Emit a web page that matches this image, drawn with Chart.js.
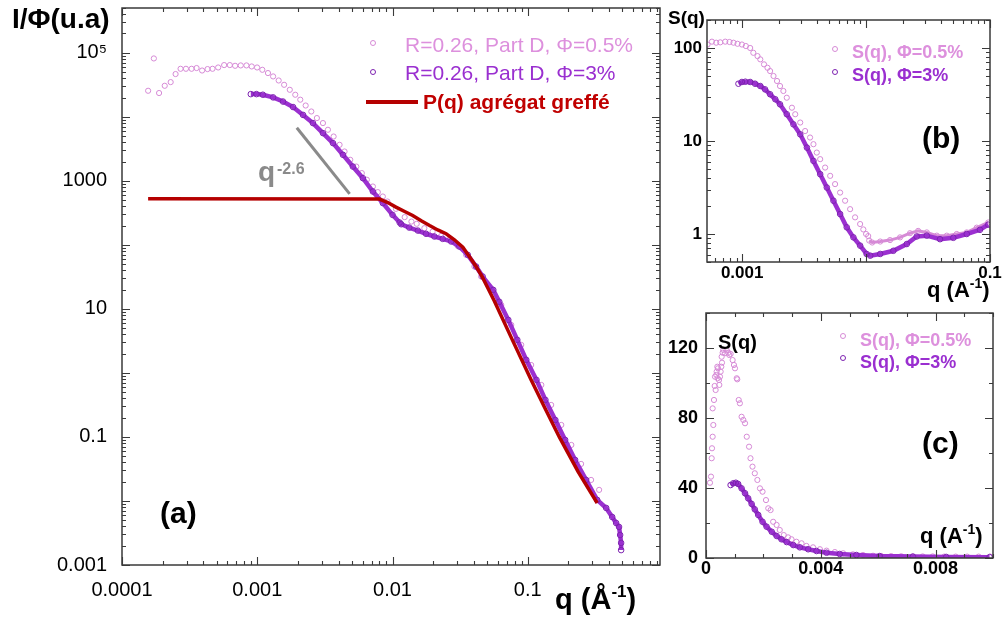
<!DOCTYPE html>
<html>
<head>
<meta charset="utf-8">
<script src="https://cdn.jsdelivr.net/npm/chart.js@4.4.1/dist/chart.umd.min.js"></script>
<style>
  body { margin: 0; background: #fff; width: 1005px; height: 623px; overflow: hidden; position: relative;
         font-family: 'Liberation Sans', Arial, sans-serif; }
  canvas { position: absolute; }
  .t { position: absolute; white-space: nowrap; line-height: 1; }
  .b { font-weight: bold; }
  .mk { position: absolute; width: 4px; height: 4px; border: 1px solid; border-radius: 50%; }
</style>
</head>
<body>
<canvas id="chartA" width="672" height="623" style="left:0;top:0"></canvas>
<canvas id="chartB" width="353" height="306" style="left:652px;top:0"></canvas>
<canvas id="chartC" width="353" height="317" style="left:652px;top:306px"></canvas>

<!-- panel (a) texts -->
<div class="t b" style="left:12px;top:5px;font-size:28px;">I/Φ(u.a)</div>
<div class="t b" style="left:555px;top:585px;font-size:29px;">q (Å<span style="font-size:17px;position:relative;top:-12px">-1</span>)</div>
<div class="mk" style="left:370px;top:40px;border-color:#d68ad6"></div>
<div class="t" style="left:405px;top:34px;font-size:21px;color:#dd90dd">R=0.26, Part D, Φ=0.5%</div>
<div class="mk" style="left:370px;top:69px;border-color:#7d22b0"></div>
<div class="t" style="left:405px;top:62px;font-size:21px;color:#9a2fd0">R=0.26, Part D, Φ=3%</div>
<div style="position:absolute;left:366px;top:100px;width:52px;height:4px;background:#b50000"></div>
<div class="t b" style="left:423px;top:91px;font-size:21px;color:#c00000">P(q) agrégat greffé</div>
<div class="t b" style="left:258px;top:158px;font-size:28px;color:#8a8a8a">q</div>
<div class="t b" style="left:277px;top:161px;font-size:16px;color:#8a8a8a">-2.6</div>
<div class="t b" style="left:160px;top:498px;font-size:30px;">(a)</div>

<!-- panel (b) texts -->
<div class="t b" style="left:668px;top:8px;font-size:19px;">S(q)</div>
<div class="mk" style="left:832px;top:46px;border-color:#d68ad6"></div>
<div class="t b" style="left:852px;top:43px;font-size:18px;color:#dd90dd">S(q), Φ=0.5%</div>
<div class="mk" style="left:832px;top:69px;border-color:#7d22b0"></div>
<div class="t b" style="left:852px;top:66px;font-size:18px;color:#9a2fd0">S(q), Φ=3%</div>
<div class="t b" style="left:922px;top:123px;font-size:30px;">(b)</div>
<div class="t b" style="left:927px;top:279px;font-size:22px;">q (A<span style="font-size:14px;position:relative;top:-9px">-1</span>)</div>

<!-- panel (c) texts -->
<div class="t b" style="left:718px;top:332px;font-size:20px;">S(q)</div>
<div class="mk" style="left:840px;top:333px;border-color:#d68ad6"></div>
<div class="t b" style="left:860px;top:331px;font-size:18px;color:#dd90dd">S(q), Φ=0.5%</div>
<div class="mk" style="left:840px;top:355px;border-color:#7d22b0"></div>
<div class="t b" style="left:860px;top:353px;font-size:18px;color:#9a2fd0">S(q), Φ=3%</div>
<div class="t b" style="left:922px;top:428px;font-size:30px;">(c)</div>
<div class="t b" style="left:920px;top:525px;font-size:22px;">q (A<span style="font-size:14px;position:relative;top:-9px">-1</span>)</div>

<script>
// SANS scattering, R=0.26 Part D — three panels.

// ---- panel (a): I/Φ vs q (log-log)
const aPhi05Q = [1.56e-4, 1.72e-4, 1.88e-4, 2.07e-4, 2.29e-4, 2.49e-4, 2.71e-4, 2.97e-4, 3.27e-4, 3.56e-4,
  3.91e-4, 4.29e-4, 4.67e-4, 5.14e-4, 5.69e-4, 6.27e-4, 6.86e-4, 7.55e-4, 8.32e-4, 9.10e-4,
  9.97e-4, 1.09e-3, 1.20e-3, 1.31e-3, 1.44e-3, 1.58e-3, 1.74e-3, 1.91e-3, 2.08e-3, 2.28e-3,
  2.51e-3, 2.76e-3, 3.06e-3, 3.33e-3, 3.67e-3, 4.06e-3, 4.42e-3, 4.87e-3, 5.40e-3, 5.93e-3,
  6.46e-3, 7.16e-3, 7.79e-3, 8.48e-3, 9.18e-3, 1.06e-2, 1.23e-2, 1.38e-2, 1.51e-2, 1.72e-2,
  1.98e-2, 2.29e-2, 2.63e-2, 3.03e-2, 3.50e-2, 4.03e-2, 4.52e-2, 5.38e-2, 6.37e-2, 7.55e-2,
  8.95e-2, 0.106, 0.126, 0.149, 0.177, 0.210, 0.248, 0.294, 0.337];
const aPhi05I = [2.55e4, 8.15e4, 2.35e4, 3.05e4, 3.48e4, 4.65e4, 5.62e4, 5.62e4, 5.62e4, 5.77e4,
  5.28e4, 5.56e4, 5.62e4, 5.89e4, 6.42e4, 6.42e4, 6.26e4, 6.34e4, 6.34e4, 6.11e4,
  5.89e4, 5.42e4, 4.82e4, 4.27e4, 3.69e4, 3.16e4, 2.64e4, 2.21e4, 1.85e4, 1.50e4,
  1.21e4, 9.55e3, 7.98e3, 6.27e3, 4.92e3, 3.65e3, 2.87e3, 2.13e3, 1.67e3, 1.32e3,
  1040, 815, 666, 569, 475, 365, 271, 231, 213, 182,
  161, 138, 120, 96.4, 69.8, 45.8, 32, 19.8, 11.5, 5.62,
  2.74, 1.33, 0.649, 0.316, 0.154, 0.075, 0.0379, 0.0213, 0.0149];

const aPhi3Q = [8.96e-4, 9.87e-4, 1.10e-3, 1.31e-3, 1.55e-3, 1.84e-3, 2.18e-3, 2.58e-3, 3.06e-3, 3.63e-3,
  4.30e-3, 5.09e-3, 6.04e-3, 7.16e-3, 8.48e-3, 1.00e-2, 1.13e-2, 1.16e-2, 1.33e-2, 1.54e-2,
  1.77e-2, 2.04e-2, 2.35e-2, 2.71e-2, 3.12e-2, 3.60e-2, 4.15e-2, 4.64e-2, 5.56e-2, 6.16e-2,
  7.18e-2, 8.37e-2, 9.75e-2, 0.116, 0.135, 0.160, 0.189, 0.224, 0.270, 0.326,
  0.380, 0.421, 0.450, 0.473, 0.482, 0.490, 0.490];
const aPhi3I = [2.26e4, 2.26e4, 2.21e4, 2.01e4, 1.73e4, 1.42e4, 1.07e4, 7.98e3, 5.56e3, 3.88e3,
  2.55e3, 1.67e3, 1.10e3, 681, 449, 294, 223, 210, 186, 167,
  149, 135, 124, 113, 94, 69.8, 45.8, 32, 19.8, 12.9,
  6.73, 3.28, 1.60, 0.778, 0.379, 0.184, 0.0898, 0.0437, 0.0213, 0.0104,
  0.00778, 0.00562, 0.00453, 0.00393, 0.00294, 0.00221, 0.00171];

const aPqQ = [1.56e-4, 8.02e-3, 9.23e-3, 1.06e-2, 1.23e-2, 1.41e-2, 1.63e-2, 1.88e-2, 2.16e-2, 2.49e-2,
  2.87e-2, 3.31e-2, 3.70e-2, 4.15e-2, 4.61e-2, 5.11e-2, 5.66e-2, 7.69e-2, 0.106, 0.135,
  0.171, 0.236, 0.326];
const aPqI = [524, 518, 458, 388, 331, 287, 237, 200, 171, 149,
  120, 92, 65.6, 45.8, 31.6, 20.5, 13.3, 3.28, 0.778, 0.274,
  0.1, 0.0284, 0.0093];

const aSlopeQ = [1.96e-3, 4.82e-3];   // q^-2.6 guide
const aSlopeI = [6.73e3, 626];

const aXTickVals = [1e-4, 1e-3, 1e-2, 0.1];
const aXTickText = ['0.0001', '0.001', '0.01', '0.1'];
const aYTickVals = [1e5, 1000, 10, 0.1, 0.001];
const aYTickText = ['10⁵', '1000', '10', '0.1', '0.001'];

// ---- panel (b): S(q) log-log
const bPhi05Q = [5.25e-4, 5.70e-4, 6.17e-4, 6.65e-4, 7.30e-4, 7.90e-4, 8.51e-4, 9.17e-4, 9.95e-4, 1.07e-3,
  1.16e-3, 1.23e-3, 1.33e-3, 1.40e-3, 1.50e-3, 1.60e-3, 1.68e-3, 1.79e-3, 1.91e-3, 2.02e-3,
  2.15e-3, 2.29e-3, 2.52e-3, 2.68e-3, 2.94e-3, 3.22e-3, 3.53e-3, 3.76e-3, 4.00e-3, 4.26e-3,
  4.67e-3, 5.13e-3, 5.62e-3, 6.17e-3, 6.77e-3, 7.43e-3, 8.15e-3, 8.95e-3, 9.50e-3, 1.00e-2,
  1.04e-2, 1.06e-2, 1.12e-2, 1.30e-2, 1.56e-2, 1.88e-2, 2.26e-2, 2.63e-2, 3.09e-2, 3.72e-2,
  4.48e-2, 5.39e-2, 6.49e-2, 7.81e-2, 9.68e-2];
const bPhi05S = [109, 117, 114, 115, 117, 116, 114, 111, 109, 105,
  100, 88.8, 81.8, 75.5, 66.7, 61.3, 56.5, 50, 44.2, 39,
  34.5, 29.2, 22.8, 19.4, 15.8, 12.8, 10.9, 9.24, 7.51, 6.38,
  5.18, 4.22, 3.44, 2.79, 2.28, 1.85, 1.51, 1.28, 1.12, 1.0,
  0.95, 0.85, 0.81, 0.83, 0.86, 0.92, 1.02, 1.08, 1.04, 0.96,
  0.96, 1.0, 1.04, 1.17, 1.33];
const bPhi3Q = [9.33e-4, 9.95e-4, 1.06e-3, 1.16e-3, 1.27e-3, 1.40e-3, 1.53e-3, 1.68e-3, 1.85e-3, 2.02e-3,
  2.29e-3, 2.59e-3, 2.94e-3, 3.33e-3, 3.76e-3, 4.26e-3, 4.82e-3, 5.45e-3, 6.17e-3, 6.98e-3,
  7.90e-3, 8.95e-3, 1.01e-2, 1.08e-2, 1.30e-2, 1.66e-2, 2.13e-2, 2.56e-2, 3.09e-2, 3.95e-2,
  5.06e-2, 6.49e-2, 8.30e-2, 9.68e-2];
const bPhi3S = [41.3, 43.1, 43.4, 43.1, 41.3, 39, 35.9, 31.8, 28.1, 24.8,
  19.4, 15.1, 11.8, 8.49, 6.11, 4.40, 3.16, 2.28, 1.64, 1.18,
  0.92, 0.75, 0.61, 0.585, 0.61, 0.66, 0.78, 0.94, 0.96, 0.88,
  0.91, 1.0, 1.11, 1.26];

const bXTickVals = [1e-3, 0.1];
const bXTickText = ['0.001', '0.1'];
const bYTickVals = [1, 10, 100];
const bYTickText = ['1', '10', '100'];

// ---- panel (c): S(q) linear
const cPhi05Q = [1.39e-4, 1.74e-4, 1.98e-4, 2.09e-4, 2.32e-4, 2.55e-4, 2.32e-4, 2.78e-4, 3.02e-4, 3.36e-4,
  3.13e-4, 3.59e-4, 3.71e-4, 3.94e-4, 4.17e-4, 4.06e-4, 4.52e-4, 4.87e-4, 4.64e-4, 5.10e-4,
  5.33e-4, 5.57e-4, 5.45e-4, 5.80e-4, 6.03e-4, 6.61e-4, 7.19e-4, 7.77e-4, 8.12e-4, 8.58e-4,
  9.28e-4, 9.74e-4, 1.01e-3, 1.07e-3, 1.09e-3, 1.14e-3, 1.18e-3, 1.24e-3, 1.30e-3, 1.36e-3,
  1.42e-3, 1.50e-3, 1.55e-3, 1.62e-3, 1.70e-3, 1.79e-3, 1.88e-3, 1.97e-3, 2.09e-3, 2.17e-3,
  2.25e-3, 2.34e-3, 2.46e-3, 2.57e-3, 2.71e-3, 2.86e-3, 2.98e-3, 3.15e-3, 3.33e-3, 3.50e-3,
  3.73e-3, 3.97e-3, 4.20e-3, 4.49e-3, 4.78e-3, 5.12e-3, 5.47e-3, 5.82e-3, 6.10e-3, 6.45e-3,
  6.80e-3, 7.20e-3, 7.55e-3, 7.90e-3, 8.30e-3, 8.70e-3, 9.10e-3, 9.50e-3, 9.90e-3];
const cPhi05S = [43.0, 46.5, 57.0, 62.7, 69.3, 76.0, 85.5, 90.3, 98.3, 96.0,
  103.6, 104.6, 106.5, 109.3, 108.4, 102.7, 101.7, 103.6, 98.9, 106.5,
  109.3, 111.6, 115.0, 117.3, 118.9, 117.0, 118.9, 117.3, 116.0, 116.6,
  113.1, 110.3, 108.4, 102.7, 102.1, 90.3, 88.4, 80.7, 78.9, 77.0,
  69.3, 63.6, 57.0, 52.2, 48.4, 44.6, 39.8, 37.9, 33.1, 28.4,
  27.4, 20.7, 18.9, 16.0, 13.1, 11.8, 10.7, 9.3, 8.4, 6.9,
  6.1, 5.0, 4.2, 3.4, 2.7, 2.1, 1.7, 1.3, 1.2, 1.1,
  1.0, 0.9, 0.9, 0.9, 0.8, 0.8, 0.8, 0.8, 0.8];
const cPhi3Q = [8.58e-4, 9.51e-4, 1.04e-3, 1.12e-3, 1.24e-3, 1.36e-3, 1.47e-3, 1.59e-3, 1.70e-3, 1.82e-3,
  1.97e-3, 2.11e-3, 2.29e-3, 2.46e-3, 2.63e-3, 2.81e-3, 3.04e-3, 3.27e-3, 3.56e-3, 3.85e-3,
  4.20e-3, 4.66e-3, 5.24e-3, 6.05e-3, 7.21e-3, 8.37e-3, 9.88e-3];
const cPhi3S = [41.7, 42.7, 43.0, 42.3, 39.8, 37.0, 34.1, 30.9, 27.8, 24.6,
  20.7, 17.9, 15.0, 12.6, 10.7, 9.1, 7.4, 6.1, 5.0, 4.0,
  3.0, 2.3, 1.7, 1.1, 0.8, 0.6, 0.5];

const cXTickVals = [0, 0.004, 0.008];
const cXTickText = ['0', '0.004', '0.008'];
const cYTickVals = [0, 40, 80, 120];
const cYTickText = ['0', '40', '80', '120'];

const COLORS = {
  light: '#d68ad6',
  dark: '#9b30d0',
  darkEdge: '#7d22b0',
  red: '#b50000',
  grey: '#8a8a8a',
  frame: '#3a3a3a',
  text: '#000',
};
const FONT = "'Liberation Sans', Arial, sans-serif";

const pts = (xs, ys) => xs.map((x, i) => ({ x, y: ys[i] }));

function labelFor(vals, texts) {
  return (v) => {
    const i = vals.findIndex((t) => Math.abs(v - t) <= Math.abs(t) * 1e-6 + 1e-12);
    return i < 0 ? '' : texts[i];
  };
}

// box frame + inward ticks on all four sides, taken from the scales' own ticks
const frameTicks = {
  id: 'frameTicks',
  afterDraw(chart) {
    const { ctx, chartArea: a } = chart;
    ctx.save();
    ctx.strokeStyle = COLORS.frame;
    ctx.lineWidth = 1.5;
    ctx.strokeRect(a.left, a.top, a.right - a.left, a.bottom - a.top);
    ctx.lineWidth = 1.1;
    ctx.beginPath();
    for (const sc of [chart.scales.x, chart.scales.y]) {
      const isLog = sc.type === 'logarithmic';
      for (const t of sc.ticks) {
        const v = t.value;
        let major = t.label !== '' && t.label != null;
        if (isLog) {
          const e = Math.floor(Math.log10(v) + 1e-9);
          const m = v / Math.pow(10, e);
          if (Math.abs(m - Math.round(m)) > 1e-6) continue;
          if (Math.abs(m - 1) < 1e-6) major = true;
        }
        const len = major ? 8 : 4;
        const p = Math.round(sc.getPixelForValue(v)) + 0.5;
        if (sc.isHorizontal()) {
          if (p < a.left - 1 || p > a.right + 1) continue;
          ctx.moveTo(p, a.bottom); ctx.lineTo(p, a.bottom - len);
          ctx.moveTo(p, a.top); ctx.lineTo(p, a.top + len);
        } else {
          if (p < a.top - 1 || p > a.bottom + 1) continue;
          ctx.moveTo(a.left, p); ctx.lineTo(a.left + len, p);
          ctx.moveTo(a.right, p); ctx.lineTo(a.right - len, p);
        }
      }
    }
    ctx.stroke();
    ctx.restore();
  },
};

function axis(type, min, max, vals, texts, font, pad, size, horizontal, step) {
  return {
    type, min, max,
    grid: { display: false, drawTicks: false },
    border: { display: false },
    ticks: {
      autoSkip: false, maxRotation: 0, padding: pad, color: COLORS.text, font,
      stepSize: step,
      callback: labelFor(vals, texts),
    },
    afterFit(s) {
      if (horizontal) s.height = size; else s.width = size;
      s.paddingTop = 0; s.paddingBottom = 0; s.paddingLeft = 0; s.paddingRight = 0;
    },
  };
}

const lightSet = (data, extra = {}) => ({
  data, showLine: false, pointRadius: 2.6, pointBorderWidth: 1,
  pointBorderColor: COLORS.light, pointBackgroundColor: 'rgba(0,0,0,0)', ...extra,
});
const darkSet = (data) => ({
  data, showLine: true, borderColor: COLORS.dark, borderWidth: 4.5,
  pointRadius: 2.8, pointBorderWidth: 1, pointBorderColor: COLORS.darkEdge,
  pointBackgroundColor: 'rgba(0,0,0,0)',
});

function makeChart(id, datasets, scales, padding) {
  return new Chart(document.getElementById(id), {
    type: 'scatter',
    data: { datasets },
    options: {
      responsive: false, animation: false, events: [],
      layout: { padding },
      plugins: { legend: { display: false }, tooltip: { enabled: false } },
      scales,
    },
    plugins: [frameTicks],
  });
}

const fontA = { family: FONT, size: 20 };
const fontB = { family: FONT, size: 17, weight: 'bold' };
const fontC = { family: FONT, size: 18, weight: 'bold' };

makeChart('chartA', [
  { data: pts(aPqQ, aPqI), showLine: true, borderColor: COLORS.red, borderWidth: 3.5, pointRadius: 0 },
  { data: pts(aSlopeQ, aSlopeI), showLine: true, borderColor: COLORS.grey, borderWidth: 3, pointRadius: 0 },
  darkSet(pts(aPhi3Q, aPhi3I)),
  lightSet(pts(aPhi05Q, aPhi05I)),
], {
  x: axis('logarithmic', 1e-4, 0.95, aXTickVals, aXTickText, fontA, 13, 58, true),
  y: axis('logarithmic', 1e-3, 5e5, aYTickVals, aYTickText, fontA, 15, 122, false),
}, { left: 0, top: 8, right: 12, bottom: 0 });

makeChart('chartB', [
  darkSet(pts(bPhi3Q, bPhi3S)),
  lightSet(pts(bPhi05Q, bPhi05S), {
    showLine: true, borderWidth: 3,
    segment: { borderColor: (c) => (c.p0.parsed.x > 0.0105 ? COLORS.light : 'rgba(0,0,0,0)') },
  }),
], {
  x: axis('logarithmic', 5.2e-4, 0.1, bXTickVals, bXTickText, fontB, 1, 44, true),
  y: axis('logarithmic', 0.5, 200, bYTickVals, bYTickText, fontB, 5, 55, false),
}, { left: 0, top: 20, right: 15, bottom: 0 });

makeChart('chartC', [
  darkSet(pts(cPhi3Q, cPhi3S)),
  lightSet(pts(cPhi05Q, cPhi05S)),
], {
  x: axis('linear', 0, 0.01, cXTickVals, cXTickText, fontC, 0, 65, true, 0.001),
  y: axis('linear', 0, 140, cYTickVals, cYTickText, fontC, 8, 54, false, 20),
}, { left: 0, top: 7, right: 12, bottom: 0 });
</script>
</body>
</html>
